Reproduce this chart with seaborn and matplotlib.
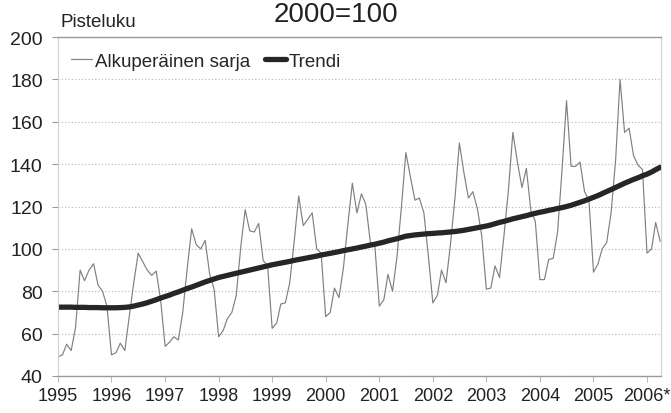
import pandas as pd
import matplotlib
matplotlib.use('Agg')
import matplotlib.pyplot as plt
import seaborn as sns

# Kuukausisarjat 1/1995 - 4/2006, 2000=100
alkuperainen = [
    49, 50, 55, 52, 63, 90, 85, 90, 93, 83, 80, 73,                 # 1995
    50, 51, 55.5, 52, 68, 84, 98, 94, 90, 87.5, 89.5, 76,           # 1996
    54, 56, 58.5, 57, 70, 91, 109.5, 102, 100, 104, 88, 81,         # 1997
    58.5, 61.5, 67, 70, 78, 101, 118.5, 108.5, 108, 112, 94.5, 92,  # 1998
    62.5, 65, 74, 74.5, 84, 104, 125, 111, 114, 117, 100, 98,       # 1999
    68, 70, 81.5, 77, 91, 112, 131, 117, 126, 121, 103, 102,        # 2000
    73, 76, 88, 80, 96, 120, 145.5, 134, 123, 124, 117, 97,         # 2001
    74.5, 78, 90, 84, 102, 124, 150, 136, 124, 127, 119, 106,       # 2002
    81, 81.5, 92, 86.5, 106, 128, 155, 141, 129, 138, 118, 113,     # 2003
    85.5, 85.5, 95, 95.5, 108, 138, 170, 139, 139, 141, 127, 123,   # 2004
    89, 93, 100, 103, 117, 142, 180, 155, 157, 144, 139.5, 137.5,   # 2005
    98, 100, 112.5, 103.5,                                          # 2006
]

trendi = [
    72.5, 72.5, 72.5, 72.5, 72.4, 72.4, 72.4, 72.3, 72.3, 72.3, 72.2, 72.2,
    72.2, 72.2, 72.3, 72.4, 72.6, 73.0, 73.5, 74.0, 74.6, 75.3, 76.0, 76.8,
    77.5, 78.2, 79.0, 79.7, 80.5, 81.3, 82.0, 82.8, 83.6, 84.4, 85.1, 85.8,
    86.5, 87.0, 87.5, 88.0, 88.5, 89.0, 89.5, 90.0, 90.5, 91.0, 91.5, 92.0,
    92.5, 92.9, 93.3, 93.7, 94.1, 94.6, 95.0, 95.4, 95.8, 96.2, 96.6, 97.1,
    97.5, 97.9, 98.3, 98.7, 99.2, 99.6, 100.0, 100.4, 100.9, 101.3, 101.8, 102.2,
    102.7, 103.2, 103.8, 104.3, 104.8, 105.4, 106.0, 106.3, 106.6, 106.8, 107.0, 107.2,
    107.3, 107.5, 107.6, 107.8, 108.0, 108.2, 108.5, 108.8, 109.2, 109.6, 110.0, 110.4,
    110.8, 111.3, 111.9, 112.5, 113.0, 113.6, 114.2, 114.7, 115.2, 115.7, 116.3, 116.8,
    117.3, 117.7, 118.2, 118.6, 119.1, 119.5, 120.0, 120.6, 121.3, 122.0, 122.7, 123.5,
    124.3, 125.2, 126.1, 127.1, 128.0, 129.0, 130.0, 131.0, 131.9, 132.8, 133.6, 134.5,
    135.3, 136.3, 137.4, 138.5,
]

vuodet = ['1995', '1996', '1997', '1998', '1999', '2000',
          '2001', '2002', '2003', '2004', '2005', '2006*']
y_ticks = [40, 60, 80, 100, 120, 140, 160, 180, 200]

kuukaudet = pd.date_range('1995-01-01', periods=len(alkuperainen), freq='MS')
df = pd.DataFrame({'kk': kuukaudet,
                   'Alkuperäinen sarja': alkuperainen,
                   'Trendi': trendi})

sns.set_style('white')
plt.rcParams['font.family'] = ['Liberation Sans', 'DejaVu Sans']

fig, ax = plt.subplots(figsize=(6.71, 4.14), dpi=100)
fig.subplots_adjust(left=0.0864, right=0.985, bottom=0.0894, top=0.908)

sns.lineplot(data=df, x='kk', y='Alkuperäinen sarja', color='#808080',
             linewidth=0.85, label='Alkuperäinen sarja', ax=ax)
sns.lineplot(data=df, x='kk', y='Trendi', color='#262626',
             linewidth=3.8, label='Trendi', ax=ax)

ax.set_ylim(40, 200)
ax.set_yticks(y_ticks)
ax.set_xlim(pd.Timestamp('1995-01-01'), pd.Timestamp('2006-04-06'))
ax.set_xticks(pd.to_datetime([v.rstrip('*') + '-01-01' for v in vuodet]))
ax.set_xticklabels(vuodet)
ax.set_xlabel('')
ax.set_ylabel('')

ax.yaxis.grid(True, linestyle=(0, (1, 2)), color='#b5b5b5', linewidth=0.8)
ax.tick_params(axis='y', direction='out', length=4.5, width=0.8, color='#999999',
               pad=6.5, labelsize=14, labelcolor='#222222', left=True)
ax.tick_params(axis='x', direction='out', length=4, width=0.8, color='#bbbbbb',
               pad=4, labelsize=13, labelcolor='#222222', bottom=True)

for side in ['top', 'bottom']:
    ax.spines[side].set_color('#9a9a9a')
    ax.spines[side].set_linewidth(1.0)
for side in ['left', 'right']:
    ax.spines[side].set_color('#d0d0d0')
    ax.spines[side].set_linewidth(0.8)

ax.legend(loc='center left', bbox_to_anchor=(0.022, 0.929), ncol=2, frameon=False,
          fontsize=13.5, handlelength=1.1, handletextpad=0.15, columnspacing=0.8,
          borderpad=0, borderaxespad=0)

fig.text(0.5, 1 - 21.5 / 414, '2000=100', ha='center', va='baseline',
         fontsize=20, color='#222222')
fig.text(60 / 671, 1 - 26.7 / 414, 'Pisteluku', ha='left', va='baseline',
         fontsize=13.5, color='#222222')

fig.savefig('out.png', dpi=100)
